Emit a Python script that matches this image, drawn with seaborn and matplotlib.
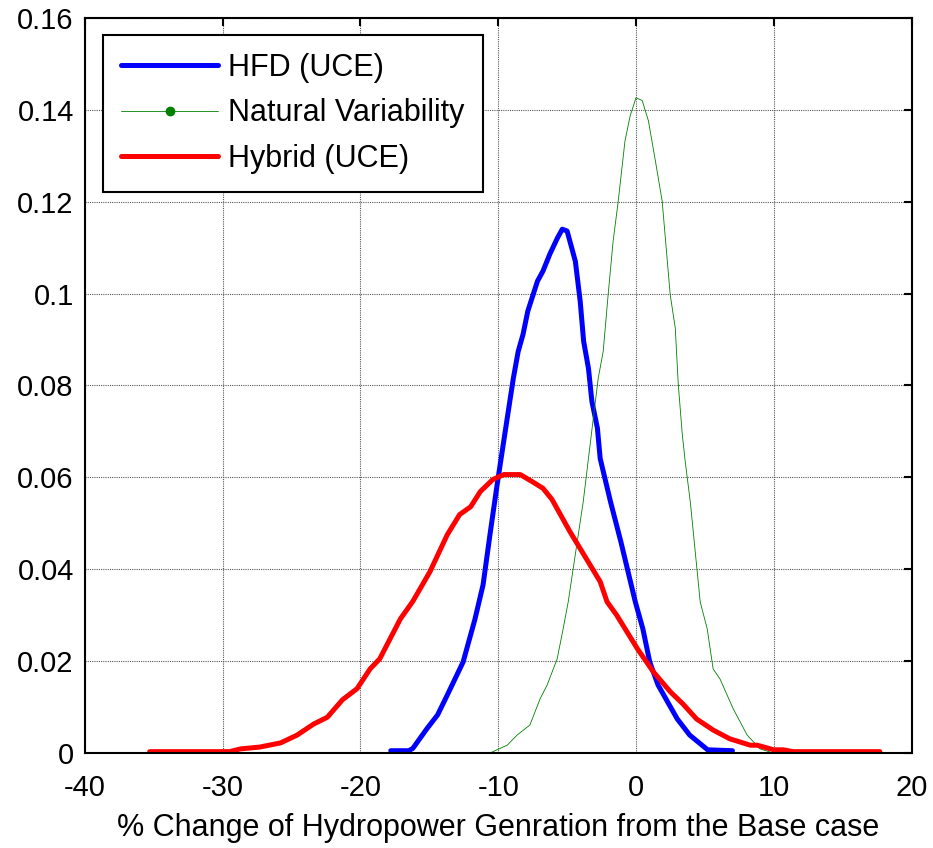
import numpy as np
import pandas as pd
import matplotlib
matplotlib.use("Agg")
import matplotlib.pyplot as plt
from matplotlib.lines import Line2D
import seaborn as sns

# HFD (UCE) density
hfd_x = [-17.8, -16.5, -16.2, -15.2, -14.4, -13.7, -12.55, -11.7, -11.1, -10.6, -10.1,
         -9.35, -8.9, -8.55, -8.2, -7.85, -7.15, -6.75, -6.25, -5.7, -5.35, -5.0,
         -4.4, -4.05, -3.8, -3.45, -3.2, -2.8, -2.6, -2.25, -1.85, -1.1, -0.05,
         0.5, 1.0, 1.6, 2.3, 3.0, 3.9, 5.2, 7.0]
hfd_y = [0.0005, 0.0005, 0.001, 0.0052, 0.0083, 0.0126, 0.0198, 0.029, 0.0366, 0.0475, 0.058,
         0.0728, 0.0816, 0.0874, 0.0911, 0.0962, 0.1027, 0.1049, 0.1086, 0.1121, 0.114, 0.1136,
         0.107, 0.0983, 0.0896, 0.0837, 0.0765, 0.0707, 0.0641, 0.0597, 0.0547, 0.046, 0.0329,
         0.027, 0.0198, 0.0148, 0.0111, 0.0074, 0.0039, 0.0007, 0.0005]

# Natural variability density
nat_x = [-10.6, -9.35, -8.63, -7.7, -6.96, -6.45, -5.72, -5.29, -4.92, -3.83, -3.1,
         -2.74, -2.38, -2.02, -1.66, -1.29, -0.8, -0.42, 0.0, 0.45, 0.9, 1.4, 1.9,
         2.48, 2.85, 3.07, 3.36, 3.57, 3.94, 4.66, 5.17, 5.6, 6.1, 7.06, 8.07, 9.0, 9.96]
nat_y = [0.0, 0.0017, 0.0039, 0.0061, 0.0118, 0.0148, 0.0205, 0.027, 0.0329, 0.0547, 0.0728,
         0.0816, 0.0874, 0.0998, 0.1114, 0.1201, 0.1332, 0.1387, 0.1426, 0.142, 0.1376, 0.129, 0.1201,
         0.0998, 0.0925, 0.0802, 0.0693, 0.0635, 0.0547, 0.0329, 0.027, 0.0183, 0.0161, 0.0096, 0.0039,
         0.0009, 0.0]

# Hybrid (UCE) density
hyb_x = [-35.3, -29.5, -28.7, -27.3, -25.8, -24.6, -23.4, -22.4, -21.3, -20.25, -19.3,
         -18.6, -17.1, -16.2, -14.95, -13.7, -12.8, -12.0, -11.3, -10.4, -9.6, -8.4,
         -7.5, -6.75, -6.1, -4.8, -2.6, -2.1, -1.4, 0.1, 1.25, 2.5, 3.4, 4.4, 5.6, 6.8,
         8.3, 8.8, 10.0, 10.7, 11.4, 17.7]
hyb_y = [0.0003, 0.0003, 0.0009, 0.0013, 0.0022, 0.0039, 0.0063, 0.0078, 0.0116, 0.014, 0.0183,
         0.0205, 0.0292, 0.033, 0.0395, 0.0475, 0.0519, 0.0536, 0.0569, 0.0595, 0.0606, 0.0606,
         0.059, 0.0576, 0.0552, 0.0482, 0.0373, 0.0329, 0.03, 0.0227, 0.0177, 0.0133, 0.0107, 0.0074,
         0.005, 0.0031, 0.0017, 0.0017, 0.0007, 0.0007, 0.0003, 0.0003]

labels = ["HFD (UCE)", "Natural Variability", "Hybrid (UCE)"]
x_ticks = [-40, -30, -20, -10, 0, 10, 20]
y_ticks = [0, 0.02, 0.04, 0.06, 0.08, 0.1, 0.12, 0.14, 0.16]
y_tick_labels = ["0", "0.02", "0.04", "0.06", "0.08", "0.1", "0.12", "0.14", "0.16"]

sns.set_style("white")
plt.rcParams["font.family"] = ["Liberation Sans", "DejaVu Sans"]
plt.rcParams["axes.unicode_minus"] = False
plt.rcParams["text.color"] = "black"
plt.rcParams["axes.labelcolor"] = "black"

fig = plt.figure(figsize=(9.33, 8.48), dpi=100)
ax = fig.add_axes([0.091, 0.112, 0.886, 0.867])

sns.lineplot(x=hfd_x, y=hfd_y, ax=ax, color="#0000ff", lw=3.6, sort=False, estimator=None)
sns.lineplot(x=nat_x, y=nat_y, ax=ax, color="#008000", lw=0.6, sort=False, estimator=None)
sns.lineplot(x=hyb_x, y=hyb_y, ax=ax, color="#ff0000", lw=3.6, sort=False, estimator=None)

ax.set_xlim(-40, 20)
ax.set_ylim(0, 0.16)
ax.set_xticks(x_ticks)
ax.set_yticks(y_ticks)
ax.set_yticklabels(y_tick_labels)
ax.tick_params(direction="in", length=6, width=1.5, top=True, right=True,
               labelsize=21, colors="black")
ax.tick_params(axis="x", pad=15)
ax.tick_params(axis="y", pad=8)
ax.grid(True, color="#555555", linestyle=(0, (1, 1)), linewidth=0.8)
for s in ax.spines.values():
    s.set_color("black")
    s.set_linewidth(1.5)

ax.set_xlabel("% Change of Hydropower Genration from the Base case", fontsize=22,
              labelpad=8, color="black")

handles = [
    Line2D([], [], color="#0000ff", lw=3.6),
    Line2D([], [], color="#008000", lw=0.6, marker=".", markersize=12),
    Line2D([], [], color="#ff0000", lw=3.6),
]
leg = ax.legend(handles, labels, loc="upper left", bbox_to_anchor=(0.022, 0.977),
                borderaxespad=0, fontsize=22, handlelength=3.15, handletextpad=0.35,
                labelspacing=0.5, borderpad=0.6, fancybox=False, framealpha=1,
                edgecolor="black", markerscale=1)
leg.get_frame().set_linewidth(1.5)

fig.savefig("out.png", dpi=100)
